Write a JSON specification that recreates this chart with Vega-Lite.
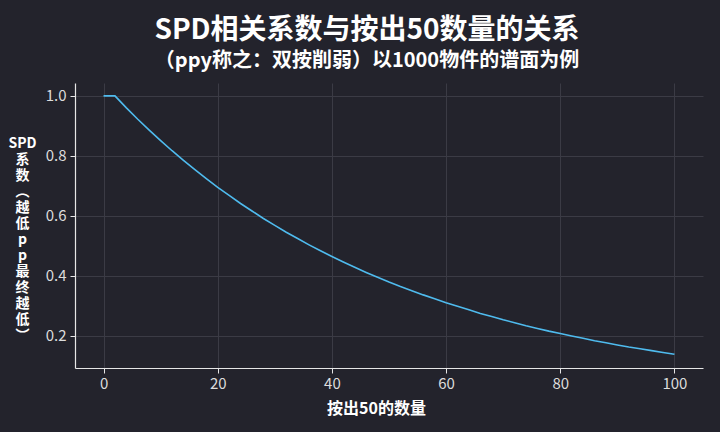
{
  "$schema": "https://vega.github.io/schema/vega-lite/v6.json",
  "width": 628,
  "height": 285,
  "autosize": "none",
  "padding": {"left": 75, "top": 83, "right": 17, "bottom": 64},
  "background": "#23232c",
  "title": {
    "text": "SPD相关系数与按出50数量的关系",
    "subtitle": "（ppy称之：双按削弱）以1000物件的谱面为例",
    "anchor": "middle",
    "frame": "group",
    "dx": -22,
    "font": "Noto Sans CJK SC",
    "fontSize": 28,
    "fontWeight": "bold",
    "color": "#ffffff",
    "subtitleFont": "Noto Sans CJK SC",
    "subtitleFontSize": 20,
    "subtitleFontWeight": "bold",
    "subtitleColor": "#ffffff",
    "subtitlePadding": 6,
    "offset": 12
  },
  "config": {
    "view": {"stroke": null},
    "axis": {
      "labelFont": "Noto Sans CJK SC",
      "labelFontSize": 15,
      "labelColor": "#dcdcdc",
      "titleFont": "Noto Sans CJK SC",
      "titleColor": "#ffffff",
      "titleFontWeight": "bold",
      "domainColor": "#e6e6e6",
      "domainWidth": 1.2,
      "tickColor": "#e6e6e6",
      "tickSize": 5,
      "gridColor": "#3b3b45",
      "gridWidth": 1
    }
  },
  "data": {
    "values": [
      {"x": 0, "y": 1.0}, {"x": 2, "y": 1.0}, {"x": 4, "y": 0.960}, {"x": 6, "y": 0.922},
      {"x": 8, "y": 0.886}, {"x": 10, "y": 0.851}, {"x": 12, "y": 0.817}, {"x": 14, "y": 0.785},
      {"x": 16, "y": 0.754}, {"x": 18, "y": 0.724}, {"x": 20, "y": 0.695}, {"x": 22, "y": 0.668},
      {"x": 24, "y": 0.641}, {"x": 26, "y": 0.616}, {"x": 28, "y": 0.591}, {"x": 30, "y": 0.568},
      {"x": 32, "y": 0.545}, {"x": 34, "y": 0.524}, {"x": 36, "y": 0.503}, {"x": 38, "y": 0.483},
      {"x": 40, "y": 0.464}, {"x": 42, "y": 0.446}, {"x": 44, "y": 0.428}, {"x": 46, "y": 0.411},
      {"x": 48, "y": 0.395}, {"x": 50, "y": 0.379}, {"x": 52, "y": 0.364}, {"x": 54, "y": 0.350},
      {"x": 56, "y": 0.336}, {"x": 58, "y": 0.323}, {"x": 60, "y": 0.310}, {"x": 62, "y": 0.298},
      {"x": 64, "y": 0.286}, {"x": 66, "y": 0.274}, {"x": 68, "y": 0.264}, {"x": 70, "y": 0.253},
      {"x": 72, "y": 0.243}, {"x": 74, "y": 0.233}, {"x": 76, "y": 0.224}, {"x": 78, "y": 0.215},
      {"x": 80, "y": 0.207}, {"x": 82, "y": 0.199}, {"x": 84, "y": 0.191}, {"x": 86, "y": 0.183},
      {"x": 88, "y": 0.176}, {"x": 90, "y": 0.169}, {"x": 92, "y": 0.162}, {"x": 94, "y": 0.156},
      {"x": 96, "y": 0.150}, {"x": 98, "y": 0.144}, {"x": 100, "y": 0.138}
    ]
  },
  "mark": {"type": "line", "color": "#4fbbee", "strokeWidth": 1.6},
  "encoding": {
    "x": {
      "field": "x",
      "type": "quantitative",
      "scale": {"domain": [-5, 105], "nice": false, "zero": false},
      "axis": {
        "values": [0, 20, 40, 60, 80, 100],
        "title": "按出50的数量",
        "titleFontSize": 16,
        "titleX": 301,
        "titleY": 40,
        "titleBaseline": "middle",
        "labelPadding": 3
      }
    },
    "y": {
      "field": "y",
      "type": "quantitative",
      "scale": {"domain": [0.092, 1.043], "nice": false, "zero": false},
      "axis": {
        "values": [0.2, 0.4, 0.6, 0.8, 1.0],
        "format": ".1f",
        "title": ["SPD", "系", "数", "︵", "越", "低", "p", "p", "最", "终", "越", "低", "︶"],
        "titleFontSize": 14,
        "titleLineHeight": 16,
        "titleAngle": 0,
        "titleAlign": "center",
        "titleBaseline": "top",
        "titleX": -53,
        "titleY": 53,
        "labelPadding": 4
      }
    }
  }
}
